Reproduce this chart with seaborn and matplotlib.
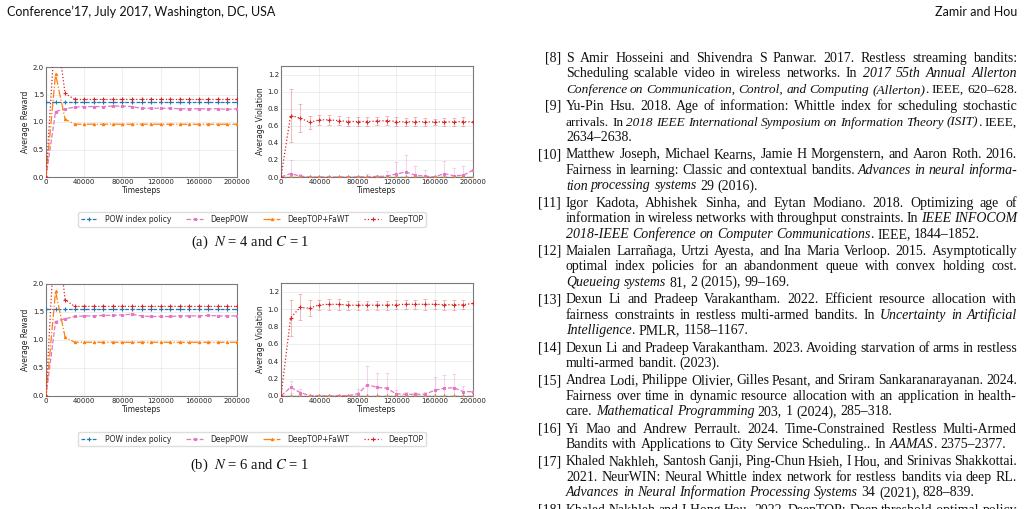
import numpy as np
import pandas as pd
import matplotlib
matplotlib.use("Agg")
import matplotlib.pyplot as plt
import seaborn as sns

# ---- data ----
steps = [0, 10000, 20000, 30000, 40000, 50000, 60000, 70000, 80000, 90000, 100000,
         110000, 120000, 130000, 140000, 150000, 160000, 170000, 180000, 190000, 200000]

labels = ["POW index policy", "DeepPOW", "DeepTOP+FaWT", "DeepTOP"]

# N = 4, reward
pow_rew4 = [1.36, 1.36, 1.36, 1.36, 1.36, 1.36, 1.36, 1.36, 1.36, 1.36, 1.36,
            1.36, 1.36, 1.36, 1.36, 1.36, 1.36, 1.36, 1.36, 1.36, 1.36]
deeppow_rew4 = [0.0, 1.19, 1.24, 1.27, 1.28, 1.28, 1.28, 1.29, 1.29, 1.28, 1.25,
                1.25, 1.25, 1.25, 1.24, 1.24, 1.24, 1.24, 1.24, 1.23, 1.24]
deeppow_rew4_err = [0.0, 0.01, 0.01, 0.01, 0.01, 0.01, 0.01, 0.01, 0.01, 0.01, 0.02,
                    0.02, 0.02, 0.02, 0.02, 0.02, 0.02, 0.02, 0.02, 0.02, 0.02]
fawt_rew4 = [0.0, 1.87, 1.05, 0.96, 0.96, 0.96, 0.96, 0.96, 0.96, 0.96, 0.96,
             0.96, 0.96, 0.96, 0.96, 0.96, 0.96, 0.96, 0.96, 0.96, 0.96]
deeptop_rew4 = [0.0, 2.8, 1.52, 1.41, 1.41, 1.41, 1.41, 1.41, 1.41, 1.41, 1.41,
                1.41, 1.41, 1.41, 1.41, 1.41, 1.41, 1.41, 1.41, 1.41, 1.41]

# N = 4, violation
pow_vio4 = [0.0, 0.0, 0.0, 0.0, 0.0, 0.0, 0.0, 0.0, 0.0, 0.0, 0.0,
            0.0, 0.0, 0.0, 0.0, 0.0, 0.0, 0.0, 0.0, 0.0, 0.0]
deeppow_vio4 = [0.0, 0.04, 0.01, 0.0, 0.0, 0.0, 0.0, 0.0, 0.0, 0.005, 0.005,
                0.01, 0.035, 0.06, 0.02, 0.01, 0.0, 0.04, 0.015, 0.02, 0.08]
deeppow_vio4_err = [0.0, 0.16, 0.02, 0.0, 0.0, 0.0, 0.0, 0.0, 0.01, 0.03, 0.02,
                    0.06, 0.145, 0.2, 0.11, 0.075, 0.01, 0.15, 0.085, 0.11, 0.0]
fawt_vio4 = [0.0, 0.0, 0.0, 0.0, 0.0, 0.0, 0.0, 0.0, 0.0, 0.0, 0.0,
             0.0, 0.0, 0.0, 0.0, 0.0, 0.0, 0.0, 0.0, 0.0, 0.0]
deeptop_vio4 = [0.0, 0.72, 0.69, 0.64, 0.67, 0.67, 0.66, 0.65, 0.65, 0.65, 0.655,
                0.66, 0.65, 0.645, 0.65, 0.645, 0.645, 0.645, 0.645, 0.65, 0.645]
deeptop_vio4_err = [0.0, 0.31, 0.16, 0.08, 0.06, 0.06, 0.05, 0.05, 0.05, 0.05, 0.05,
                    0.05, 0.05, 0.05, 0.05, 0.05, 0.04, 0.05, 0.05, 0.05, 0.0]

# N = 6, reward
pow_rew6 = [1.55, 1.55, 1.55, 1.55, 1.55, 1.55, 1.55, 1.55, 1.55, 1.55, 1.55,
            1.55, 1.55, 1.55, 1.55, 1.55, 1.55, 1.55, 1.55, 1.55, 1.55]
deeppow_rew6 = [0.0, 1.33, 1.38, 1.42, 1.43, 1.43, 1.44, 1.44, 1.45, 1.46, 1.43,
                1.42, 1.42, 1.42, 1.43, 1.43, 1.43, 1.44, 1.43, 1.43, 1.43]
deeppow_rew6_err = [0.0, 0.01, 0.01, 0.01, 0.01, 0.01, 0.01, 0.01, 0.01, 0.02, 0.01,
                    0.01, 0.01, 0.01, 0.01, 0.01, 0.01, 0.01, 0.01, 0.01, 0.01]
fawt_rew6 = [0.0, 1.87, 1.05, 0.96, 0.96, 0.96, 0.96, 0.96, 0.96, 0.96, 0.96,
             0.96, 0.96, 0.96, 0.96, 0.96, 0.96, 0.96, 0.96, 0.96, 0.96]
deeptop_rew6 = [0.0, 3.2, 1.72, 1.60, 1.60, 1.60, 1.60, 1.60, 1.60, 1.60, 1.60,
                1.60, 1.60, 1.60, 1.60, 1.60, 1.60, 1.60, 1.60, 1.60, 1.60]

# N = 6, violation
pow_vio6 = pow_vio4
deeppow_vio6 = [0.0, 0.10, 0.04, 0.005, 0.005, 0.0, 0.005, 0.005, 0.025, 0.13, 0.10,
                0.09, 0.025, 0.02, 0.02, 0.02, 0.065, 0.09, 0.095, 0.05, 0.05]
deeppow_vio6_err = [0.0, 0.07, 0.04, 0.0, 0.0, 0.0, 0.01, 0.01, 0.05, 0.21, 0.16,
                    0.18, 0.04, 0.03, 0.03, 0.03, 0.15, 0.15, 0.155, 0.07, 0.0]
fawt_vio6 = fawt_vio4
deeptop_vio6 = [0.0, 0.90, 1.02, 1.01, 1.05, 1.055, 1.055, 1.045, 1.045, 1.045, 1.045,
                1.045, 1.05, 1.055, 1.055, 1.055, 1.055, 1.05, 1.05, 1.05, 1.065]
deeptop_vio6_err = [0.0, 0.21, 0.15, 0.09, 0.06, 0.06, 0.06, 0.05, 0.05, 0.05, 0.05,
                    0.05, 0.05, 0.05, 0.05, 0.06, 0.05, 0.06, 0.06, 0.05, 0.0]

xticks = [0, 40000, 80000, 120000, 160000, 200000]
rew_ticks = [0.0, 0.5, 1.0, 1.5, 2.0]
vio_ticks = [0.0, 0.2, 0.4, 0.6, 0.8, 1.0, 1.2]

header_left = "Conference\u201917, July 2017, Washington, DC, USA"
header_right = "Zamir and Hou"
captions = ["(a)  $N$ = 4 and $C$ = 1", "(b)  $N$ = 6 and $C$ = 1"]

# references: '|' toggles italics, last line of each entry is not justified
refs = [
    ("[8]", ["S Amir Hosseini and Shivendra S Panwar. 2017.  Restless streaming bandits:",
             "Scheduling scalable video in wireless networks. In |2017 55th Annual Allerton|",
             "|Conference on Communication, Control, and Computing (Allerton)|. IEEE, 620\u2013628."]),
    ("[9]", ["Yu-Pin Hsu. 2018.  Age of information: Whittle index for scheduling stochastic",
             "arrivals. In |2018 IEEE International Symposium on Information Theory (ISIT)|. IEEE,",
             "2634\u20132638."]),
    ("[10]", ["Matthew Joseph, Michael Kearns, Jamie H Morgenstern, and Aaron Roth. 2016.",
              "Fairness in learning: Classic and contextual bandits.  |Advances in neural informa-|",
              "|tion processing systems| 29 (2016)."]),
    ("[11]", ["Igor Kadota, Abhishek Sinha, and Eytan Modiano. 2018.  Optimizing age of",
              "information in wireless networks with throughput constraints. In |IEEE INFOCOM|",
              "|2018-IEEE Conference on Computer Communications|. IEEE, 1844\u20131852."]),
    ("[12]", ["Maialen Larra\u00f1aga, Urtzi Ayesta, and Ina Maria Verloop. 2015.  Asymptotically",
              "optimal index policies for an abandonment queue with convex holding cost.",
              "|Queueing systems| 81, 2 (2015), 99\u2013169."]),
    ("[13]", ["Dexun Li and Pradeep Varakantham. 2022.  Efficient resource allocation with",
              "fairness constraints in restless multi-armed bandits. In |Uncertainty in Artificial|",
              "|Intelligence|. PMLR, 1158\u20131167."]),
    ("[14]", ["Dexun Li and Pradeep Varakantham. 2023. Avoiding starvation of arms in restless",
              "multi-armed bandit. (2023)."]),
    ("[15]", ["Andrea Lodi, Philippe Olivier, Gilles Pesant, and Sriram Sankaranarayanan. 2024.",
              "Fairness over time in dynamic resource allocation with an application in health-",
              "care.  |Mathematical Programming| 203, 1 (2024), 285\u2013318."]),
    ("[16]", ["Yi Mao and Andrew Perrault. 2024.  Time-Constrained Restless Multi-Armed",
              "Bandits with Applications to City Service Scheduling.. In |AAMAS|. 2375\u20132377."]),
    ("[17]", ["Khaled Nakhleh, Santosh Ganji, Ping-Chun Hsieh, I Hou, and Srinivas Shakkottai.",
              "2021.  NeurWIN: Neural Whittle index network for restless bandits via deep RL.",
              "|Advances in Neural Information Processing Systems| 34 (2021), 828\u2013839."]),
    ("[18]", ["Khaled Nakhleh and I-Hong Hou. 2022. DeepTOP: Deep threshold-optimal policy",
              ""]),
]

# ---- styling ----
sns.set_style("whitegrid", {"grid.color": "#e8e8e8", "axes.edgecolor": "#7a7a7a"})
plt.rcParams["mathtext.fontset"] = "stix"

colors = {"POW index policy": "#1f77b4", "DeepPOW": "#e377c2",
          "DeepTOP+FaWT": "#ff7f0e", "DeepTOP": "#d62728"}
lstyles = {"POW index policy": (0, (3, 1.5)), "DeepPOW": "--",
           "DeepTOP+FaWT": "-.", "DeepTOP": ":"}
markers = {"POW index policy": "+", "DeepPOW": "s", "DeepTOP+FaWT": "^", "DeepTOP": "+"}
msizes = {"POW index policy": 3.0, "DeepPOW": 1.8, "DeepTOP+FaWT": 1.7, "DeepTOP": 3.5}

W, H = 1024, 509
fig = plt.figure(figsize=(W / 100, H / 100), dpi=100)
fig.patch.set_facecolor("white")


def px_axes(left, top, right, bottom):
    return fig.add_axes([left / W, 1 - bottom / H, (right - left) / W, (bottom - top) / H])


def draw_panel(ax, series, ylim, yticks, ylabel):
    handles = []
    for name, vals, err in series:
        c = colors[name]
        if err is not None:
            ax.errorbar(steps, vals, yerr=err, fmt="none", ecolor=c, alpha=0.3,
                        elinewidth=0.8, capsize=1.6, capthick=0.7, zorder=1)
        df = pd.DataFrame({"Timesteps": steps, "value": vals})
        sns.lineplot(data=df, x="Timesteps", y="value", ax=ax, color=c,
                     linestyle=lstyles[name], marker=markers[name], markersize=msizes[name],
                     markeredgecolor=c, markeredgewidth=0.8, linewidth=0.9,
                     legend=False, zorder=3)
        handles.append(ax.lines[-1])
    ax.set_xlim(0, 200000)
    ax.set_ylim(*ylim)
    ax.set_xticks(xticks)
    ax.set_xticklabels([str(t) for t in xticks])
    ax.set_yticks(yticks)
    ax.set_yticklabels([f"{t:.1f}" for t in yticks])
    ax.tick_params(labelsize=5, pad=1.5, length=0, labelcolor="#222222")
    ax.set_xlabel("Timesteps", fontsize=5.5, labelpad=0.5, color="#222222")
    ax.set_ylabel(ylabel, fontsize=5.5, labelpad=2, color="#222222")
    ax.grid(True, linewidth=0.5)
    for s in ax.spines.values():
        s.set_linewidth(0.8)
    return handles


rows = [
    (67, 177,
     [("POW index policy", pow_rew4, None), ("DeepPOW", deeppow_rew4, deeppow_rew4_err),
      ("DeepTOP+FaWT", fawt_rew4, None), ("DeepTOP", deeptop_rew4, None)],
     [("POW index policy", pow_vio4, None), ("DeepPOW", deeppow_vio4, deeppow_vio4_err),
      ("DeepTOP+FaWT", fawt_vio4, None), ("DeepTOP", deeptop_vio4, deeptop_vio4_err)],
     219.5, 242),
    (284, 396,
     [("POW index policy", pow_rew6, None), ("DeepPOW", deeppow_rew6, deeppow_rew6_err),
      ("DeepTOP+FaWT", fawt_rew6, None), ("DeepTOP", deeptop_rew6, None)],
     [("POW index policy", pow_vio6, None), ("DeepPOW", deeppow_vio6, deeppow_vio6_err),
      ("DeepTOP+FaWT", fawt_vio6, None), ("DeepTOP", deeptop_vio6, deeptop_vio6_err)],
     439, 465),
]

for i, (top, bottom, rew, vio, leg_y, cap_y) in enumerate(rows):
    ax_r = px_axes(46, top, 237, bottom)
    hs = draw_panel(ax_r, rew, (0, 2.0), rew_ticks, "Average Reward")
    ax_v = px_axes(281, top - 1, 473, bottom)
    draw_panel(ax_v, vio, (0, 1.3), vio_ticks, "Average Violation")
    fig.legend(hs, labels, loc="center", bbox_to_anchor=(252 / W, 1 - leg_y / H),
               ncol=4, fontsize=5.5, frameon=True, edgecolor="#dddddd", fancybox=True,
               framealpha=1, handlelength=2.2, columnspacing=2.0, handletextpad=0.9,
               borderpad=0.35)
    fig.text(250 / W, 1 - cap_y / H, captions[i], ha="center", va="center",
             fontsize=10.5, fontfamily="Liberation Serif", color="#111111")

# header
fig.text(7 / W, 1 - 12 / H, header_left, ha="left", va="center", fontsize=9,
         fontfamily="Lato", color="#111111")
fig.text(1017 / W, 1 - 12 / H, header_right, ha="right", va="center", fontsize=9,
         fontfamily="Lato", color="#111111")

# references, justified by hand
renderer = fig.canvas.get_renderer()
SERIF = "Liberation Serif"
TX_L, TX_R = 566, 1017
LINE_W = TX_R - TX_L


def parse(line):
    words, word, piece, italic = [], [], "", False
    for ch in line:
        if ch == "|":
            if piece:
                word.append((piece, italic))
            piece = ""
            italic = not italic
        elif ch == " ":
            if piece:
                word.append((piece, italic))
            piece = ""
            if word:
                words.append(word)
            word = []
        else:
            piece += ch
    if piece:
        word.append((piece, italic))
    if word:
        words.append(word)
    return words


def width_of(txt, fs, italic=False):
    t = fig.text(0, 0, txt, fontsize=fs, fontfamily=SERIF,
                 style="italic" if italic else "normal")
    w = t.get_window_extent(renderer).width
    t.remove()
    return w


def natural(words, fs, sp):
    nat = sum(width_of(txt, fs, it) for word in words for txt, it in word)
    return nat + sp * (len(words) - 1)


# size chosen so that a typical full line fills the measure with normal spaces
FS0 = 9.0
sp0 = width_of("a a", FS0) - width_of("aa", FS0)
nats = []
for lab, lines in refs:
    for line in lines[:-1]:
        words = parse(line)
        if words:
            nats.append(natural(words, FS0, sp0))
FS = FS0 * LINE_W / float(np.median(nats)) * 0.985
space_w = width_of("a a", FS) - width_of("aa", FS)

y = 61.7
for e, (lab, lines) in enumerate(refs):
    fig.text((TX_L - 5) / W, 1 - y / H, lab, ha="right", va="baseline", fontsize=FS,
             fontfamily=SERIF, color="#111111")
    for j, line in enumerate(lines):
        words = parse(line)
        if not words:
            continue
        # shrink an over-full line slightly so it still fits the measure
        fs = FS
        nat = natural(words, fs, space_w * 0.85)
        if nat > LINE_W:
            fs = FS * LINE_W / nat
        objs = []
        total = 0.0
        for word in words:
            pieces = []
            for txt, it in word:
                t = fig.text(0, 1 - y / H, txt, ha="left", va="baseline", fontsize=fs,
                             fontfamily=SERIF, style="italic" if it else "normal",
                             color="#111111")
                w = t.get_window_extent(renderer).width
                pieces.append((t, w))
                total += w
            objs.append(pieces)
        justify = j < len(lines) - 1
        if len(objs) > 1:
            fill = (LINE_W - total) / (len(objs) - 1)
            gap = fill if justify else min(space_w, fill)
        else:
            gap = space_w
        x = TX_L
        for pieces in objs:
            for t, w in pieces:
                t.set_x(x / W)
                x += w
            x += gap
        y += 15.6
    y += 1.5

fig.savefig("out.png", dpi=100, facecolor="white")
